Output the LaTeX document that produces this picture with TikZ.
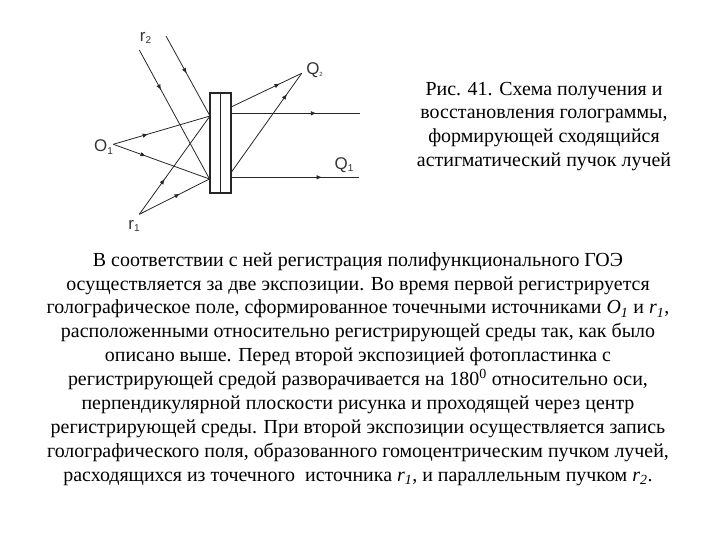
\documentclass[tikz,border=0pt]{standalone}
\usepackage{fontspec}
\setmainfont{Liberation Serif}
\newfontfamily\labelfont{Liberation Sans}
\usetikzlibrary{arrows.meta,decorations.markings}
\tikzset{
    ray/.style={line width=0.8pt, draw=black!85},
    rayarrow/.style={ray, postaction={decorate}, decoration={markings,
        mark=at position #1 with {\arrow{Latex[length=5.5pt,width=4.5pt]}}}},
    raylabel/.style={font=\labelfont\fontsize{17}{17}\selectfont, text=black!80, inner sep=0pt},
    textblock/.style={font=\fontsize{20}{24}\selectfont, align=center, inner sep=0pt}
}
\newcommand{\subit}[2]{\textit{#1}\textsubscript{\textit{#2}}}
\newcommand{\lowidx}[2]{\raisebox{-2.5pt}{\fontsize{#1}{#1}\selectfont #2}}
\begin{document}
\begin{tikzpicture}[x=1bp, y=-1bp]
    \useasboundingbox (0,0) rectangle (720,540);

    % Sources and image points
    \coordinate (o1) at (113.3,144.3);
    \coordinate (r1) at (139.3,214.3);
    \coordinate (r2a) at (139.3,50);
    \coordinate (r2b) at (166,36);
    \coordinate (q2) at (301.7,73.3);

    % Points on the plate
    \coordinate (hitup) at (210,116);
    \coordinate (hitlow) at (209.5,179);
    \coordinate (outa) at (231.7,106.7);
    \coordinate (outb) at (231.7,171.7);
    \coordinate (beamup) at (231.7,113.3);
    \coordinate (beamlow) at (231.7,177.3);
    \coordinate (endup) at (360,113.3);
    \coordinate (endlow) at (359,177.3);

    % Incoming rays
    \draw[rayarrow=0.36] (o1) -- (hitup);
    \draw[rayarrow=0.34] (o1) -- (hitlow);
    \draw[rayarrow=0.36] (r1) -- (hitup);
    \draw[rayarrow=0.58] (r1) -- (hitlow);
    \draw[rayarrow=0.31] (r2a) -- (hitlow);
    \draw[rayarrow=0.47] (r2b) -- (hitup);

    % Outgoing rays
    \draw[rayarrow=0.69] (outa) -- (q2);
    \draw[rayarrow=0.79] (outb) -- (q2);
    \draw[rayarrow=0.66] (beamup) -- (endup);
    \draw[rayarrow=0.71] (beamlow) -- (endlow);

    % Plate
    \node[draw=black!85, line width=2pt, minimum width=21pt, minimum height=100pt, inner sep=0pt] (plate) at (220.7,143) {};
    \draw[line width=0.9pt, black!85] (plate.north) -- (plate.south);

    % Labels
    \node[raylabel] (labelrb) at (145.5,38) {r\lowidx{10}{2}};
    \node[raylabel] (labelqb) at (314.5,70) {Q\lowidx{6}{2}};
    \node[raylabel] (labelo) at (103.5,147) {O\lowidx{10}{1}};
    \node[raylabel] (labelqa) at (344,165) {Q\lowidx{10}{1}};
    \node[raylabel] (labelra) at (134,226) {r\lowidx{10}{1}};

    % Text
    \node[textblock] (caption) at (544,126.5) {Рис. 41. Схема получения и\\
        восстановления голограммы,\\
        формирующей сходящийся\\
        астигматический пучок лучей};
    \node[textblock] (body) at (358,369) {В соответствии с ней регистрация полифункционального ГОЭ\\
        осуществляется за две экспозиции. Во время первой регистрируется\\
        голографическое поле, сформированное точечными источниками \subit{O}{1} и \subit{r}{1},\\
        расположенными относительно регистрирующей среды так, как было\\
        описано выше. Перед второй экспозицией фотопластинка с\\
        регистрирующей средой разворачивается на 180\textsuperscript{0} относительно оси,\\
        перпендикулярной плоскости рисунка и проходящей через центр\\
        регистрирующей среды. При второй экспозиции осуществляется запись\\
        голографического поля, образованного гомоцентрическим пучком лучей,\\
        расходящихся из точечного~~источника \subit{r}{1}, и параллельным пучком \subit{r}{2}.};
\end{tikzpicture}
\end{document}
